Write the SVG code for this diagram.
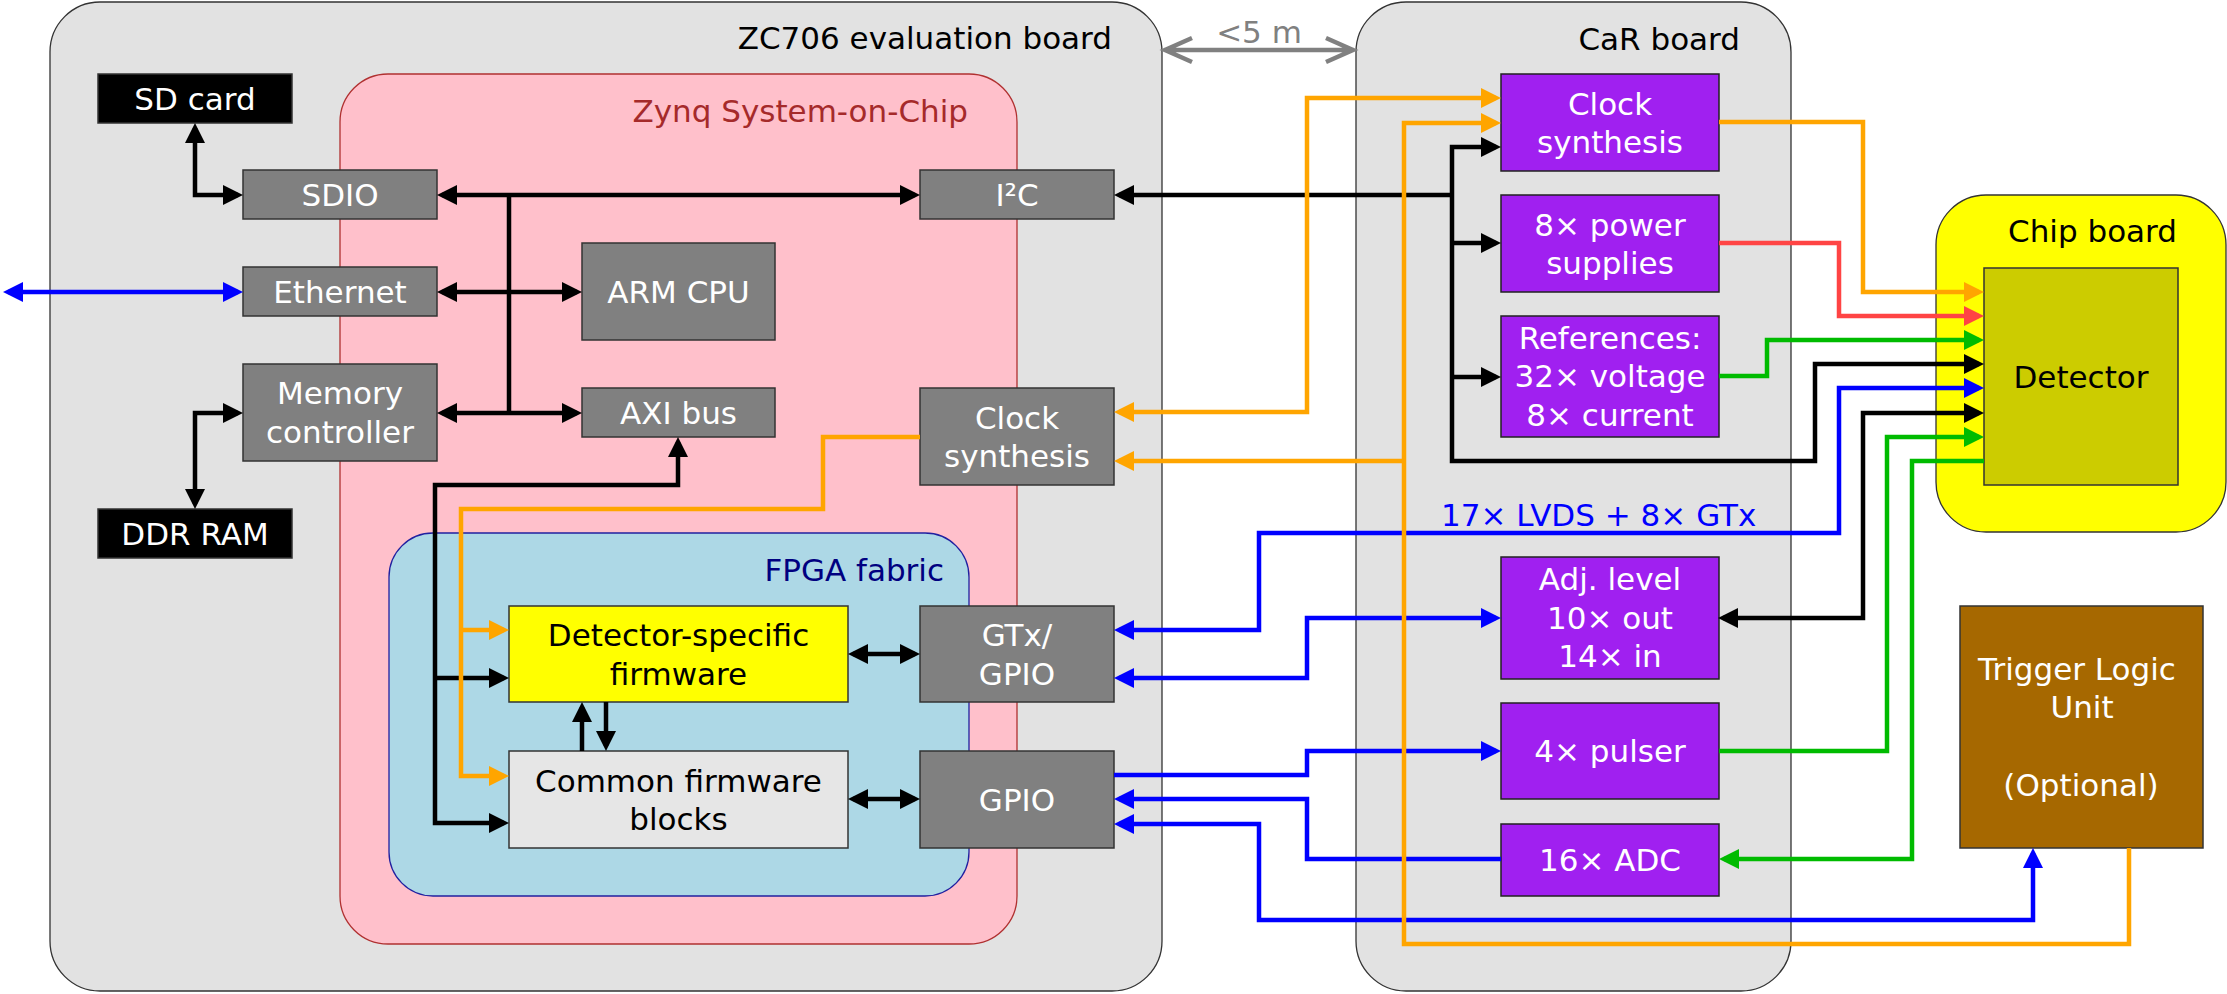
<svg xmlns="http://www.w3.org/2000/svg" width="2227" height="994" viewBox="0 0 2227 994">
<style>
text{font-family:"DejaVu Sans","Noto Sans",sans-serif;font-size:31px}
.w{fill:#fff;text-anchor:middle}
.k{fill:#000;text-anchor:middle}
.board{fill:#e2e2e2;stroke:#333;stroke-width:1.3}
.gray{fill:#808080;stroke:#333;stroke-width:1.5}
.blk{fill:#000;stroke:#333;stroke-width:1.5}
.pur{fill:#a020f0;stroke:#222;stroke-width:1.5}
.c{fill:none;stroke-width:4.5;stroke-linejoin:miter}
.cb{stroke:#000}
.cu{stroke:#0000ff}
.co{stroke:#ffa500}
.cr{stroke:#ff4444}
.cg{stroke:#00bb00}
</style>
<defs>
<marker id="ak" viewBox="0 0 20 20" markerUnits="userSpaceOnUse" markerWidth="20" markerHeight="20" refX="15" refY="10" orient="auto-start-reverse"><path d="M0,0 L20,10 L0,20 z" fill="#000"/></marker>
<marker id="au" viewBox="0 0 20 20" markerUnits="userSpaceOnUse" markerWidth="20" markerHeight="20" refX="15" refY="10" orient="auto-start-reverse"><path d="M0,0 L20,10 L0,20 z" fill="#0000ff"/></marker>
<marker id="ao" viewBox="0 0 20 20" markerUnits="userSpaceOnUse" markerWidth="20" markerHeight="20" refX="15" refY="10" orient="auto-start-reverse"><path d="M0,0 L20,10 L0,20 z" fill="#ffa500"/></marker>
<marker id="ar" viewBox="0 0 20 20" markerUnits="userSpaceOnUse" markerWidth="20" markerHeight="20" refX="15" refY="10" orient="auto-start-reverse"><path d="M0,0 L20,10 L0,20 z" fill="#ff4444"/></marker>
<marker id="ag" viewBox="0 0 20 20" markerUnits="userSpaceOnUse" markerWidth="20" markerHeight="20" refX="15" refY="10" orient="auto-start-reverse"><path d="M0,0 L20,10 L0,20 z" fill="#00bb00"/></marker>
</defs>
<rect width="2227" height="994" fill="#fff"/>

<g id="zc706">
<rect class="board" x="50" y="2" width="1112" height="989" rx="50"/>
<text x="1112" y="49" text-anchor="end">ZC706 evaluation board</text>
</g>
<g id="car">
<rect class="board" x="1356" y="2" width="435" height="989" rx="50"/>
<text x="1740" y="50" text-anchor="end">CaR board</text>
</g>
<g id="zynq">
<rect x="340" y="74" width="677" height="870" rx="48" fill="#ffc0cb" stroke="#b03030" stroke-width="1.3"/>
<text x="968" y="122" text-anchor="end" fill="#a52a2a">Zynq System-on-Chip</text>
</g>
<g id="fpga">
<rect x="389" y="533" width="580" height="363" rx="44" fill="#add8e6" stroke="#2020a0" stroke-width="1.3"/>
<text x="944" y="581" text-anchor="end" fill="#000080">FPGA fabric</text>
</g>
<g id="chipboard">
<rect x="1936" y="195" width="290" height="337" rx="50" fill="#ffff00" stroke="#333" stroke-width="1.3"/>
<text x="2177" y="242" text-anchor="end">Chip board</text>
</g>

<g id="distance">
<path d="M1164,50 H1354 M1192,38 L1165,50 L1192,62 M1326,38 L1353,50 L1326,62" fill="none" stroke="#808080" stroke-width="4.5"/>
<text x="1259" y="43" text-anchor="middle" fill="#808080">&lt;5 m</text>
</g>

<g id="sdcard"><rect class="blk" x="98" y="74" width="194" height="49"/><text class="w" x="195" y="109.5">SD card</text></g>
<g id="ddrram"><rect class="blk" x="98" y="509" width="194" height="49"/><text class="w" x="195" y="545">DDR RAM</text></g>
<g id="sdio"><rect class="gray" x="243" y="170" width="194" height="49"/><text class="w" x="340" y="206">SDIO</text></g>
<g id="ethernet"><rect class="gray" x="243" y="267" width="194" height="49"/><text class="w" x="340" y="303">Ethernet</text></g>
<g id="memctrl"><rect class="gray" x="243" y="364" width="194" height="97"/><text class="w" x="340" y="404">Memory</text><text class="w" x="340" y="443">controller</text></g>
<g id="armcpu"><rect class="gray" x="582" y="243" width="193" height="97"/><text class="w" x="678.5" y="303">ARM CPU</text></g>
<g id="axibus"><rect class="gray" x="582" y="388" width="193" height="49"/><text class="w" x="678.5" y="424">AXI bus</text></g>
<g id="i2c"><rect class="gray" x="920" y="170" width="194" height="49"/><text class="w" x="1017" y="206">I²C</text></g>
<g id="zclock"><rect class="gray" x="920" y="388" width="194" height="97"/><text class="w" x="1017" y="428.5">Clock</text><text class="w" x="1017" y="467">synthesis</text></g>
<g id="detfw"><rect x="509" y="606" width="339" height="96" fill="#ffff00" stroke="#333" stroke-width="1.5"/><text class="k" x="678.5" y="646">Detector-specific</text><text class="k" x="678.5" y="685">firmware</text></g>
<g id="commonfw"><rect x="509" y="751" width="339" height="97" fill="#e6e6e6" stroke="#333" stroke-width="1.5"/><text class="k" x="678.5" y="791.5">Common firmware</text><text class="k" x="678.5" y="830">blocks</text></g>
<g id="gtx"><rect class="gray" x="920" y="606" width="194" height="96"/><text class="w" x="1017" y="646">GTx/</text><text class="w" x="1017" y="685">GPIO</text></g>
<g id="gpio"><rect class="gray" x="920" y="751" width="194" height="97"/><text class="w" x="1017" y="811">GPIO</text></g>

<g id="carclock"><rect class="pur" x="1501" y="74" width="218" height="97"/><text class="w" x="1610" y="114.5">Clock</text><text class="w" x="1610" y="153">synthesis</text></g>
<g id="power"><rect class="pur" x="1501" y="195" width="218" height="97"/><text class="w" x="1610" y="235.5">8× power</text><text class="w" x="1610" y="274">supplies</text></g>
<g id="refs"><rect class="pur" x="1501" y="316" width="218" height="121"/><text class="w" x="1610" y="348.5">References:</text><text class="w" x="1610" y="387">32× voltage</text><text class="w" x="1610" y="425.5">8× current</text></g>
<g id="adj"><rect class="pur" x="1501" y="557" width="218" height="122"/><text class="w" x="1610" y="590">Adj. level</text><text class="w" x="1610" y="628.5">10× out</text><text class="w" x="1610" y="667">14× in</text></g>
<g id="pulser"><rect class="pur" x="1501" y="703" width="218" height="96"/><text class="w" x="1610" y="762">4× pulser</text></g>
<g id="adc"><rect class="pur" x="1501" y="824" width="218" height="72"/><text class="w" x="1610" y="871">16× ADC</text></g>
<g id="detector"><rect x="1984" y="268" width="194" height="217" fill="#cccc00" stroke="#333" stroke-width="1.5"/><text class="k" x="2081" y="387.5">Detector</text></g>
<g id="tlu"><rect x="1960" y="606" width="243" height="242" fill="#a66800" stroke="#333" stroke-width="1.5"/><text class="w" x="2077" y="679.5">Trigger Logic</text><text class="w" x="2082" y="718">Unit</text><text class="w" x="2081" y="796">(Optional)</text></g>

<text x="1441" y="526" fill="#0000ff">17× LVDS + 8× GTx</text>

<g id="connectors">
<g class="c cb" marker-end="url(#ak)">
<path d="M195,128 V195 H238" marker-start="url(#ak)"/>
<path d="M442,195 H915" marker-start="url(#ak)"/>
<path d="M442,292 H577" marker-start="url(#ak)"/>
<path d="M442,413 H577" marker-start="url(#ak)"/>
<path d="M238,413 H195 V504" marker-start="url(#ak)"/>
<path d="M678,442 V485 H435 V823 H504" marker-start="url(#ak)"/>
<path d="M435,678 H504"/>
<path d="M853,654 H915" marker-start="url(#ak)"/>
<path d="M853,799 H915" marker-start="url(#ak)"/>
<path d="M582,751 V707"/>
<path d="M606,702 V746"/>
<path d="M1496,147 H1452 V461 H1815 V364 H1979" marker-start="url(#ak)"/>
<path d="M1452,243 H1496"/>
<path d="M1452,377 H1496"/>
<path d="M1723,618 H1863 V413 H1979" marker-start="url(#ak)"/>
</g>
<path class="c cb" d="M509,195 V413"/>
<path class="c cb" d="M1119,195 H1452" marker-start="url(#ak)"/>
<g class="c cu" marker-end="url(#au)">
<path d="M8,292 H238" marker-start="url(#au)"/>
<path d="M1119,630 H1259 V533 H1839 V388 H1979" marker-start="url(#au)"/>
<path d="M1119,678 H1307 V618 H1496" marker-start="url(#au)"/>
<path d="M1114,775 H1307 V751 H1496"/>
<path d="M1501,859 H1307 V799 H1119"/>
<path d="M1119,824 H1259 V920 H2033 V853" marker-start="url(#au)"/>
</g>
<g class="c cr" marker-end="url(#ar)">
<path d="M1719,243 H1839 V316 H1979"/>
</g>
<g class="c cg" marker-end="url(#ag)">
<path d="M1719,376 H1767 V340 H1979"/>
<path d="M1719,751 H1887 V437 H1979"/>
<path d="M1984,461 H1912 V859 H1724"/>
</g>
<g class="c co" marker-end="url(#ao)">
<path d="M1119,412 H1307 V98 H1496" marker-start="url(#ao)"/>
<path d="M2129,848 V944 H1404 V123 H1496"/>
<path d="M1404,461 H1119"/>
<path d="M1719,122 H1863 V292 H1979"/>
<path d="M920,437 H823 V509 H461 V776 H504"/>
<path d="M461,630 H504"/>
</g>
</g>
</svg>
